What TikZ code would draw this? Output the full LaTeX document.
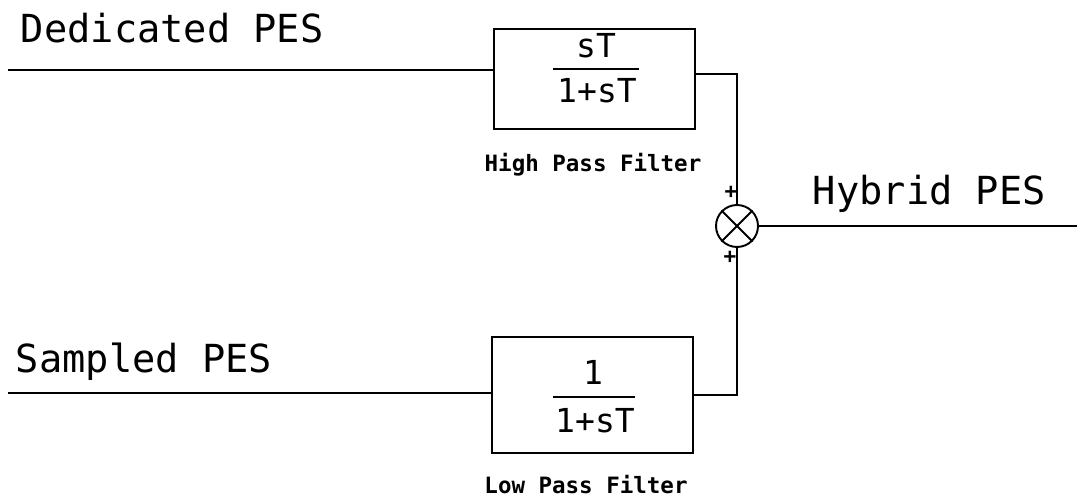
\documentclass[tikz,border=0pt]{standalone}
\usepackage{fontspec}
\setmainfont{DejaVu Sans Mono}
\begin{document}
\begin{tikzpicture}[x=0.02cm,y=-0.02cm,line width=1.1pt,
  blk/.style={draw,minimum width=4.02cm,inner sep=0},
  big/.style={font=\fontsize{22}{26}\selectfont,inner sep=0,anchor=base west},
  frac/.style={font=\fontsize{18.8}{22}\selectfont,inner sep=0,anchor=base},
  caption/.style={font=\fontsize{12.8}{15}\selectfont\bfseries,inner sep=0,anchor=base},
  sgn/.style={font=\fontsize{12}{14}\selectfont\bfseries,inner sep=0}]
\useasboundingbox(0,0)rectangle(1077,499);
% blocks and summing junction
\node[blk,minimum height=2cm](hpf)at(594.5,79){};
\node[blk,minimum height=2.32cm](lpf)at(592.5,395){};
\node[draw,circle,minimum size=0.84cm,inner sep=0](sum)at(737,226){};
\draw(sum.north west)--(sum.south east);\draw(sum.north east)--(sum.south west);
% transfer functions
\node[frac](hn)at(596,58){sT};
\node[frac](hd)at(597,103){1+sT};
\draw(553,69)--(639,69);
\node[frac](ln)at(593,384){1};
\node[frac](ld)at(595,432){1+sT};
\draw(553,397)--(635,397);
% signals
\coordinate(ded)at(8,70);\coordinate(smp)at(8,393);\coordinate(hyb)at(1077,226);
\draw(ded)--([yshift=0.18cm]hpf.west);
\draw([yshift=0.1cm]hpf.east)-|(sum.north);
\draw(smp)--(smp-|lpf.west);
\draw(lpf.east)-|(sum.south);
\draw(sum.east)--(hyb);
% labels
\node[big](dl)at(20,43){Dedicated PES};
\node[big](sl)at(15,373){Sampled PES};
\node[big](yl)at(812,205){Hybrid PES};
\node[caption](hc)at(593,172){High Pass Filter};
\node[caption](lc)at(586,493){Low Pass Filter};
\node[sgn](p1)at(731,192){+};
\node[sgn](p2)at(730,257){+};
\end{tikzpicture}
\end{document}
